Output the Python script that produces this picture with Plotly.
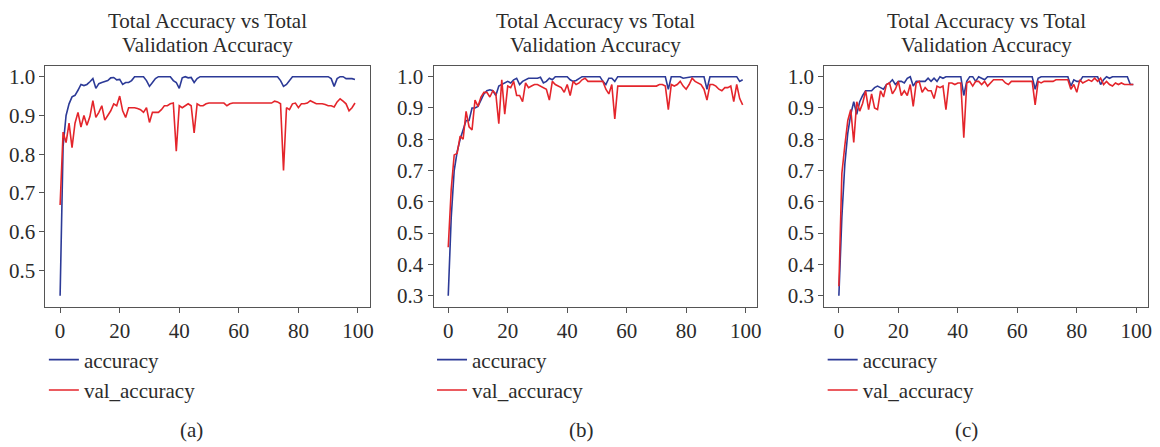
import plotly.graph_objects as go

epochs = list(range(100))

acc_a = [0.435, 0.82, 0.90, 0.93, 0.948, 0.952, 0.965, 0.98, 0.977, 0.98,
         0.987, 0.995, 0.970, 0.982, 0.985, 0.987, 0.990, 0.997, 0.998, 0.992,
         0.993, 0.980, 0.985, 0.985, 0.990, 1.0, 1.0, 1.0, 1.0, 0.99,
         0.975, 0.985, 0.995, 1.0, 1.0, 1.0, 1.0, 1.0, 0.99, 0.985,
         0.970, 0.997, 1.0, 0.997, 0.998, 0.985, 0.995, 1.0, 1.0, 1.0,
         1.0, 1.0, 1.0, 1.0, 1.0, 1.0, 1.0, 1.0, 1.0, 1.0,
         1.0, 1.0, 1.0, 1.0, 1.0, 1.0, 1.0, 1.0, 1.0, 1.0,
         1.0, 1.0, 1.0, 1.0, 0.99, 0.975, 0.98, 0.99, 1.0, 1.0,
         1.0, 1.0, 1.0, 1.0, 1.0, 1.0, 1.0, 1.0, 1.0, 1.0,
         1.0, 0.995, 0.975, 0.995, 1.0, 1.0, 0.995, 0.995, 0.995, 0.993]

val_a = [0.669, 0.857, 0.830, 0.880, 0.817, 0.880, 0.908, 0.870, 0.900, 0.875,
         0.897, 0.938, 0.895, 0.908, 0.925, 0.888, 0.900, 0.912, 0.930, 0.925,
         0.950, 0.912, 0.895, 0.920, 0.920, 0.920, 0.918, 0.915, 0.908, 0.920,
         0.882, 0.908, 0.908, 0.908, 0.915, 0.925, 0.925, 0.930, 0.932, 0.808,
         0.925, 0.920, 0.925, 0.930, 0.925, 0.855, 0.930, 0.925, 0.925, 0.930,
         0.932, 0.932, 0.932, 0.932, 0.932, 0.932, 0.925, 0.930, 0.932, 0.932,
         0.932, 0.932, 0.932, 0.932, 0.932, 0.932, 0.932, 0.932, 0.932, 0.932,
         0.932, 0.932, 0.937, 0.935, 0.930, 0.758, 0.920, 0.915, 0.930, 0.932,
         0.920, 0.930, 0.930, 0.932, 0.938, 0.935, 0.930, 0.930, 0.930, 0.928,
         0.925, 0.925, 0.922, 0.935, 0.943, 0.937, 0.930, 0.912, 0.920, 0.932]

acc_b = [0.30, 0.55, 0.70, 0.76, 0.80, 0.83, 0.86, 0.86, 0.90, 0.90,
         0.905, 0.925, 0.945, 0.955, 0.958, 0.955, 0.940, 0.970, 0.975, 0.980,
         0.985, 0.980, 0.990, 0.995, 0.975, 0.985, 0.990, 0.995, 0.995, 0.995,
         0.995, 0.998, 0.980, 0.985, 0.995, 0.990, 1.0, 1.0, 1.0, 1.0,
         1.0, 0.990, 0.985, 0.988, 0.995, 1.0, 1.0, 1.0, 1.0, 1.0,
         1.0, 1.0, 0.985, 0.975, 0.995, 0.995, 0.985, 1.0, 1.0, 1.0,
         1.0, 1.0, 1.0, 1.0, 1.0, 1.0, 1.0, 1.0, 1.0, 1.0,
         1.0, 1.0, 1.0, 1.0, 0.96, 1.0, 1.0, 1.0, 1.0, 0.995,
         0.997, 1.0, 1.0, 1.0, 1.0, 1.0, 1.0, 0.96, 1.0, 1.0,
         1.0, 1.0, 1.0, 1.0, 1.0, 1.0, 1.0, 1.0, 0.985, 0.99]

val_b = [0.455, 0.640, 0.750, 0.755, 0.810, 0.800, 0.889, 0.840, 0.830, 0.925,
         0.905, 0.935, 0.950, 0.950, 0.935, 0.955, 0.945, 0.850, 0.990, 0.880,
         0.970, 0.965, 0.985, 0.940, 0.940, 0.920, 0.980, 0.965, 0.970, 0.975,
         0.975, 0.970, 0.965, 0.960, 0.925, 0.985, 0.975, 0.970, 0.965, 0.950,
         0.975, 0.940, 0.985, 0.975, 0.980, 0.990, 0.995, 0.985, 0.985, 0.985,
         0.985, 0.985, 0.985, 0.960, 0.945, 0.975, 0.865, 0.970, 0.970, 0.970,
         0.970, 0.970, 0.970, 0.970, 0.970, 0.970, 0.970, 0.970, 0.970, 0.970,
         0.970, 0.975, 0.975, 0.970, 0.895, 0.975, 0.970, 0.975, 0.985, 0.970,
         0.960, 0.975, 0.995, 0.985, 0.980, 0.975, 0.960, 0.925, 0.975, 0.975,
         0.970, 0.960, 0.955, 0.965, 0.965, 0.970, 0.920, 0.975, 0.930, 0.910]

acc_c = [0.30, 0.55, 0.72, 0.82, 0.88, 0.92, 0.88, 0.92, 0.94, 0.955,
         0.955, 0.955, 0.965, 0.970, 0.965, 0.960, 0.975, 0.980, 0.990, 0.975,
         0.985, 0.985, 0.980, 0.995, 1.0, 0.970, 0.985, 0.985, 0.985, 0.985,
         0.995, 0.985, 0.995, 0.985, 1.0, 0.995, 1.0, 1.0, 1.0, 1.0,
         1.0, 1.0, 0.940, 0.985, 1.0, 1.0, 0.985, 1.0, 0.995, 0.990,
         1.0, 1.0, 1.0, 1.0, 1.0, 1.0, 1.0, 1.0, 1.0, 1.0,
         1.0, 1.0, 1.0, 1.0, 1.0, 1.0, 0.960, 0.995, 1.0, 1.0,
         1.0, 1.0, 1.0, 1.0, 1.0, 1.0, 1.0, 1.0, 0.970, 0.990,
         0.985, 0.985, 1.0, 1.0, 1.0, 1.0, 1.0, 1.0, 0.975, 0.990,
         1.0, 0.995, 1.0, 1.0, 1.0, 1.0, 1.0, 1.0, 0.975, 0.975]

val_c = [0.33, 0.69, 0.78, 0.86, 0.895, 0.79, 0.92, 0.89, 0.915, 0.955,
         0.895, 0.945, 0.900, 0.895, 0.955, 0.935, 0.975, 0.980, 0.945, 0.960,
         0.985, 0.940, 0.955, 0.940, 0.975, 0.905, 0.980, 0.985, 0.950, 0.965,
         0.955, 0.955, 0.930, 0.970, 0.965, 0.970, 0.895, 0.980, 0.980, 0.975,
         0.980, 0.980, 0.805, 0.980, 0.985, 0.970, 0.985, 0.985, 0.975, 0.985,
         0.970, 0.980, 0.990, 0.990, 0.990, 0.990, 0.980, 0.975, 0.985, 0.985,
         0.985, 0.985, 0.985, 0.985, 0.985, 0.985, 0.910, 0.985, 0.980, 0.985,
         0.985, 0.985, 0.985, 0.990, 0.990, 0.990, 0.990, 0.990, 0.960, 0.975,
         0.950, 0.990, 0.980, 0.985, 0.990, 0.985, 0.995, 0.985, 0.995, 0.975,
         0.985, 0.975, 0.970, 0.980, 0.975, 0.980, 0.975, 0.975, 0.975, 0.975]

panels = [("a", acc_a, val_a), ("b", acc_b, val_b), ("c", acc_c, val_c)]
series_names = ["accuracy", "val_accuracy"]
title_lines = ["Total Accuracy vs Total", "Validation Accuracy"]
y_ticks = [[0.5, 0.6, 0.7, 0.8, 0.9, 1.0],
           [0.3, 0.4, 0.5, 0.6, 0.7, 0.8, 0.9, 1.0],
           [0.3, 0.4, 0.5, 0.6, 0.7, 0.8, 0.9, 1.0]]
x_ticks = [0, 20, 40, 60, 80, 100]

# The page body has an 8px default margin: the figure is drawn 8px in from the
# window's top-left corner, so size it to fill the rest of the 1160x447 window.
OFF = 8
W, H = 1160 - OFF, 447 - OFF
def fx(px):
    return (px - OFF) / W
def fy(py):
    return 1 - (py - OFF) / H

BLUE = "#2c3a97"
RED = "#e4252b"
FONT = "Liberation Serif"
TXT = "#2b2b2b"
AX = "#555555"

# window-pixel layout of each panel (left, right), shared top/bottom
px_x = [(45.5, 371), (435, 760), (827, 1152)]
top_px, bot_px = 65, 307
caption_x = [192, 583, 970]
title_y = [20.5, 44]

fig = go.Figure()
for i, (lab, acc, val) in enumerate(panels):
    sfx = "" if i == 0 else str(i + 1)
    leg = "legend" if i == 0 else f"legend{i + 1}"
    for name, ys, col in [(series_names[0], acc, BLUE), (series_names[1], val, RED)]:
        fig.add_trace(go.Scatter(
            x=epochs, y=ys, mode="lines", name=name,
            line=dict(color=col, width=1.6),
            xaxis="x" + sfx, yaxis="y" + sfx, legend=leg))

layout = dict(
    width=W, height=H, margin=dict(l=0, r=0, t=0, b=0),
    paper_bgcolor="white", plot_bgcolor="white",
    font=dict(family=FONT, size=21, color=TXT),
    showlegend=True,
)

def rng(vals):
    lo, hi = min(vals), max(vals)
    m = (hi - lo) * 0.05
    return [lo - m, hi + m]

annotations = []
for i, (lab, acc, val) in enumerate(panels):
    sfx = "" if i == 0 else str(i + 1)
    l, r = px_x[i]
    axstyle = dict(showline=True, mirror=True, linecolor=AX, linewidth=1,
                   ticks="outside", ticklen=5, tickcolor=AX, tickwidth=1,
                   showgrid=False, zeroline=False, ticklabeloverflow="allow",
                   tickfont=dict(family=FONT, size=21, color=TXT))
    layout["xaxis" + sfx] = dict(domain=[fx(l), fx(r)], range=[-4.95, 103.95],
                                 tickvals=x_ticks, anchor="y" + sfx, **axstyle)
    layout["yaxis" + sfx] = dict(domain=[fy(bot_px), fy(top_px)], range=rng(acc + val),
                                 tickvals=y_ticks[i], tickformat=".1f",
                                 anchor="x" + sfx, **axstyle)
    leg = "legend" if i == 0 else f"legend{i + 1}"
    layout[leg] = dict(x=fx(l - 1.5), y=fy(340), xanchor="left", yanchor="top",
                       bgcolor="rgba(0,0,0,0)", borderwidth=0, tracegroupgap=0,
                       font=dict(family=FONT, size=21, color=TXT))
    for line, ty in zip(title_lines, title_y):
        annotations.append(dict(text=line, x=fx((l + r) / 2), y=fy(ty),
                                xref="paper", yref="paper", showarrow=False,
                                xanchor="center", yanchor="middle", borderpad=0,
                                font=dict(family=FONT, size=21, color=TXT)))
    annotations.append(dict(text=f"({lab})", x=fx(caption_x[i]), y=fy(431),
                            xref="paper", yref="paper", showarrow=False,
                            xanchor="center", yanchor="middle",
                            font=dict(family=FONT, size=21, color=TXT)))

layout["annotations"] = annotations
fig.update_layout(**layout)
fig.write_html("out.html")
